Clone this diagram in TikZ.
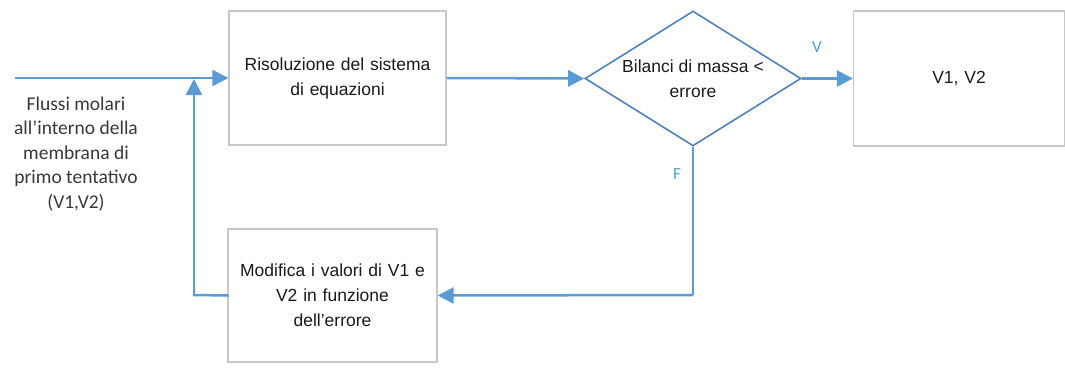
\documentclass[tikz,border=0pt]{standalone}
\usepackage{fontspec}
\setmainfont{Liberation Sans}
\newfontfamily\calfont{Carlito}
\usetikzlibrary{shapes.geometric,arrows.meta}
\definecolor{lblue}{HTML}{5B9BD5}
\definecolor{dblue}{HTML}{4F81BD}
\definecolor{bgray}{HTML}{C8C8C8}
\definecolor{tgray}{HTML}{1A1A1A}
\tikzset{
  x=1pt,y=-1pt,
  boxfont/.style={font=\fontsize{17.5}{25}\selectfont},
  procbox/.style={draw=bgray,line width=1.3pt,fill=white,minimum width=#1,text width=205pt,align=center,inner sep=0pt,text=tgray,boxfont},
  conn/.style={draw=lblue,line width=2.5pt,-{Triangle[length=16pt,width=16pt]}},
  plain/.style={draw=lblue,line width=2.5pt},
  lbl/.style={text=lblue,font=\calfont\fontsize{17}{20}\selectfont,inner sep=0pt}
}
\begin{document}
\begin{tikzpicture}
\useasboundingbox (0,0) rectangle (1065,367);
\node[procbox=217pt,minimum height=134pt] (ris) at (337.5,78) {\raisebox{-3pt}{\parbox{205pt}{\centering Risoluzione del sistema\\di equazioni}}};
\node[draw=dblue,line width=1.6pt,diamond,minimum width=216pt,minimum height=135pt,inner sep=0pt,aspect=1.6] (dec) at (693,78.5) {};
\node[text=tgray,align=center,boxfont] (dectxt) at (693,79) {Bilanci di massa <\\errore};
\node[procbox=211pt,minimum height=135pt] (res) at (959,78.5) {V1, V2};
\node[procbox=209pt,minimum height=133pt] (mod) at (332.5,295.5) {Modifica i valori di V1 e\\V2 in funzione\\dell’errore};
\node[text=black!78,align=center,font=\calfont\fontsize{19.5}{24.5}\selectfont,inner sep=0pt] (in) at (76,154) {Flussi molari\\all’interno della\\membrana di\\primo tentativo\\(V1,V2)};
\coordinate (start) at (15,78);
\coordinate (c1) at (693,295);
\coordinate (c2) at (194,295);
\coordinate (c3) at (194,79);
\draw[conn] (start) -- (ris.west);
\draw[conn] (ris.east) -- (dec.west);
\draw[conn] (dec.east) -- (res.west);
\draw[plain] (dec.south) -- (c1);
\draw[conn] (c1) -- (mod.east);
\draw[plain,line cap=rect] (mod.west) -- (c2);
\draw[conn] (c2) -- (c3);
\node[lbl] (vl) at (817,47) {V};
\node[lbl] (fl) at (677,174) {F};
\end{tikzpicture}
\end{document}
